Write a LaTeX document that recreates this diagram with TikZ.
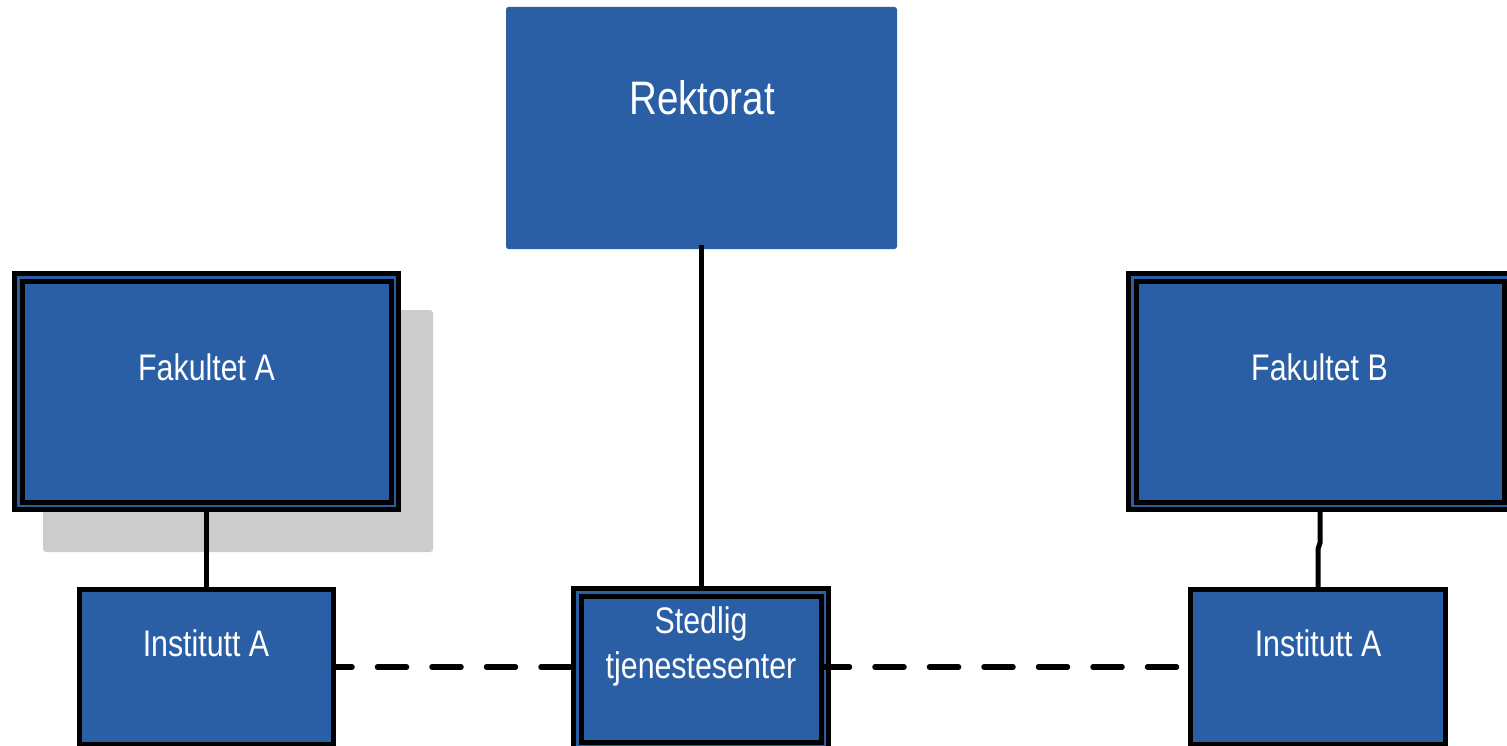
\documentclass[tikz,border=0pt]{standalone}
\usepackage{fontspec}
\setmainfont[FakeStretch=0.82]{Liberation Sans}
\definecolor{boxblue}{RGB}{42,95,165}
\definecolor{shadowgray}{RGB}{204,204,204}
\begin{document}
\begin{tikzpicture}[x=1pt,y=-1pt,
  plainbox/.style={rectangle, fill=boxblue, inner sep=0pt, outer sep=0pt, rounded corners=2.5pt},
  dblbox/.style={rectangle, fill=boxblue, draw=black, line width=5pt, double=boxblue, double distance=2.5pt, inner sep=0pt, outer sep=0pt},
  singlebox/.style={rectangle, fill=boxblue, draw=black, line width=5.5pt, inner sep=0pt, outer sep=0pt},
  shadowbox/.style={rectangle, fill=shadowgray, rounded corners=3pt, inner sep=0pt, outer sep=0pt},
  lbl/.style={text=white, anchor=base, inner sep=0pt, align=center, font=\fontsize{37}{45}\selectfont},
  biglbl/.style={text=white, anchor=base, inner sep=0pt, font=\fontsize{47}{55}\selectfont},
  conn/.style={draw=black, line width=5pt},
  dashconn/.style={draw=black, line width=5.5pt, line cap=round, dash pattern=on 29pt off 25.5pt}
]
\useasboundingbox (0,0) rectangle (1507,746);
\clip (0,0) rectangle (1507,746);

% shadow behind Fakultet A
\node[shadowbox, minimum width=390pt, minimum height=242pt] (shadowA) at (238,431) {};

% boxes
\node[plainbox, minimum width=391pt, minimum height=242pt] (rekt) at (701.5,128) {};
\node[dblbox, minimum width=376.5pt, minimum height=228.5pt] (fakA) at (206.5,391.5) {};
\node[dblbox, minimum width=375.5pt, minimum height=228.5pt] (fakB) at (1320,391.5) {};
\node[singlebox, minimum width=254pt, minimum height=155pt] (instL) at (206.5,667) {};
\node[singlebox, minimum width=255pt, minimum height=155pt] (instR) at (1318,667) {};

% connectors
\draw[conn] (rekt.south) ++(-0.5,-4) -- ++(0,342);
\draw[conn] (fakA.south) ++(0,6.25) -- (instL.north);
\draw[conn] (fakB.south) ++(0,6.25) -- ++(0,31) -- ++(-2,6) -- (instR.north);

\node[dblbox, minimum width=247.5pt, minimum height=153.5pt] (sted) at (701,669) {};

\draw[dashconn, dash phase=10.5pt] (instL.east) -- (sted.west |- instL.east);
\draw[dashconn, dash phase=4.25pt] (sted.east |- instR.west) -- (instR.west);

% labels
\node[biglbl] (rektT) at (702,115) {Rektorat};
\node[lbl] (fakAT) at (206.5,380) {Fakultet A};
\node[lbl] (fakBT) at (1319.5,380) {Fakultet B};
\node[lbl] (instLT) at (206,656) {Institutt A};
\node[lbl] (instRT) at (1318,656) {Institutt A};
\node[lbl] (stedT) at (701,678) {Stedlig\\tjenestesenter};
\end{tikzpicture}
\end{document}
